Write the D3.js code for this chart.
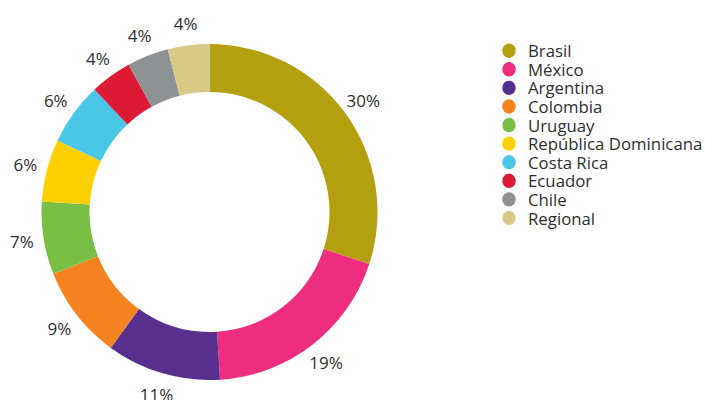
<!DOCTYPE html>
<html><head><meta charset="utf-8">
<script src="https://cdn.jsdelivr.net/npm/d3@7"></script>
<style>body{margin:0;background:#fff}svg{display:block}text{font-family:"Open Sans",sans-serif;fill:#2e2e2e}</style>
</head><body><svg id="c" width="705" height="400"></svg>
<script>
const categories = ["Brasil","México","Argentina","Colombia","Uruguay","República Dominicana","Costa Rica","Ecuador","Chile","Regional"];
const values = [30,19,11,9,7,6,6,4,4,4];
const colors = ["#B4A00F","#EE2D80","#57308F","#F58420","#79BF45","#FFD000","#4AC6E6","#DC1A36","#8E9294","#D9C987"];

const svg = d3.select("#c");
const cx = 209.5, cy = 212, R = 168, r = 120, labelR = 190;
const data = categories.map((c,i)=>({name:c, value:values[i], color:colors[i]}));
const pie = d3.pie().value(d=>d.value).sort(null);
const arc = d3.arc().innerRadius(r).outerRadius(R);
const labelArc = d3.arc().innerRadius(labelR).outerRadius(labelR);
const g = svg.append("g").attr("transform",`translate(${cx},${cy})`);
const arcs = pie(data);
g.selectAll("path").data(arcs).join("path").attr("d",arc).attr("fill",d=>d.data.color);
g.selectAll("text").data(arcs).join("text")
  .attr("transform",d=>`translate(${labelArc.centroid(d)})`)
  .attr("text-anchor","middle").attr("dominant-baseline","central")
  .style("font-size","17px")
  .text(d=>d.data.value+"%");

const y = d3.scalePoint().domain(categories).range([50.7,218]);
const lg = svg.append("g");
lg.selectAll("ellipse").data(data).join("ellipse")
  .attr("cx",509).attr("cy",d=>y(d.name)).attr("rx",6.7).attr("ry",7.2).attr("fill",d=>d.color);
lg.selectAll("text").data(data).join("text")
  .attr("x",528).attr("y",d=>y(d.name)).attr("dominant-baseline","central")
  .style("font-size","16.8px").text(d=>d.name);
</script></body></html>
